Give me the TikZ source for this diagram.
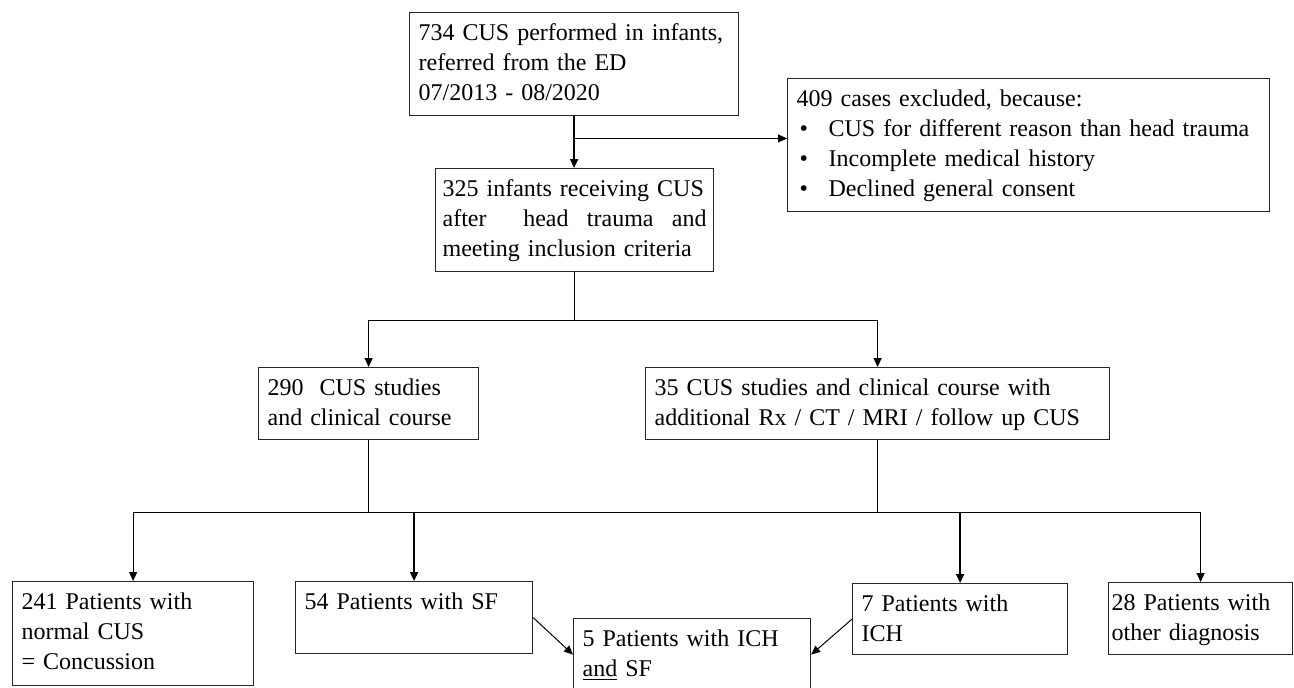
\documentclass[tikz,border=0pt]{standalone}
\usepackage{fontspec}
\setmainfont{Liberation Serif}
\usetikzlibrary{arrows.meta,calc}

\newcommand{\exclbullet}{\hspace*{1.5pt}\makebox[14.5pt][l]{\textbullet}}

\tikzset{
  flowbox/.style={draw=black!85, line width=0.6pt, anchor=north west, align=left,
    inner xsep=4.5pt, inner ysep=0pt, text height=14pt,
    font=\fontsize{12}{15}\selectfont},
  link/.style={line width=0.5pt, ->},
  mainlink/.style={line width=1pt, ->},
}

\begin{document}
\begin{tikzpicture}[x=0.5pt, y=-0.5pt, >={Triangle[length=4.5pt,width=4pt]}]

    \useasboundingbox (0,0) rectangle (1294,687);

    % top part
    \node[flowbox, text width=155.5pt, text depth=37.5pt] (start) at (409,12)
        {734 CUS performed in infants,\\ referred from the ED\\ 07/2013 - 08/2020};
    \node[flowbox, text width=232pt, text depth=52.5pt] (excl) at (787,78)
        {409 cases excluded, because:\\
         \exclbullet CUS for different reason than head trauma\\
         \exclbullet Incomplete medical history\\
         \exclbullet Declined general consent};
    \node[flowbox, inner xsep=3.5pt, text width=132pt, text depth=37.5pt] (incl) at (435,168)
        {\mbox{325 infants receiving CUS}\\ after\hfill\hfill head\hfill trauma\hfill and\\ meeting inclusion criteria};

    % studies
    \node[flowbox, text width=101pt, text depth=22pt] (s290) at (258,367)
        {290\ \ CUS studies\\ and clinical course};
    \node[flowbox, text width=223pt, text depth=22pt] (s35) at (645,367)
        {35 CUS studies and clinical course with\\ additional Rx / CT / MRI / follow up CUS};

    % outcomes
    \node[flowbox, text width=111.5pt, text depth=38pt] (n241) at (12,581)
        {241 Patients with\\ normal CUS\\ = Concussion};
    \node[flowbox, text width=109.5pt, text depth=22pt] (n54) at (295,581)
        {54 Patients with SF};
    \node[flowbox, text width=109.5pt, text depth=22pt] (n5) at (573,618)
        {5 Patients with ICH\\ \underline{and} SF};
    \node[flowbox, text width=98.5pt, text depth=21.5pt] (n7) at (852,583)
        {7 Patients with\\ ICH};
    \node[flowbox, inner xsep=1.5pt, text width=89pt, text depth=22pt] (n28) at (1108,582)
        {28 Patients with\\ other diagnosis};

    % connectors
    \draw[mainlink] (start.south) -- (start.south |- incl.north);
    \coordinate (excljoin) at ($(start.south)!0.43!(start.south |- incl.north)$);
    \draw[link] (excljoin) -- (excljoin -| excl.west);

    \draw[link] (incl.south) -- ++(0,48) coordinate (split1) -| (s290.north);
    \draw[link] (split1) -| (s35.north);

    \draw[line width=0.5pt] (s290.south) -- ++(0,72) coordinate (split2);
    \draw[line width=0.5pt] (s35.south) -- (s35.south |- split2);
    \draw[line width=0.5pt] (split2 -| n241.north) -- (split2 -| n28.north);
    \foreach \n in {n241,n28} \draw[link] (split2 -| \n.north) -- (\n.north);
    \foreach \n in {n54,n7} \draw[mainlink] (split2 -| \n.north) -- (\n.north);

    \draw[link] (n54.east) -- (n5.west);
    \draw[link] (n7.west) -- (n5.east);

\end{tikzpicture}
\end{document}
